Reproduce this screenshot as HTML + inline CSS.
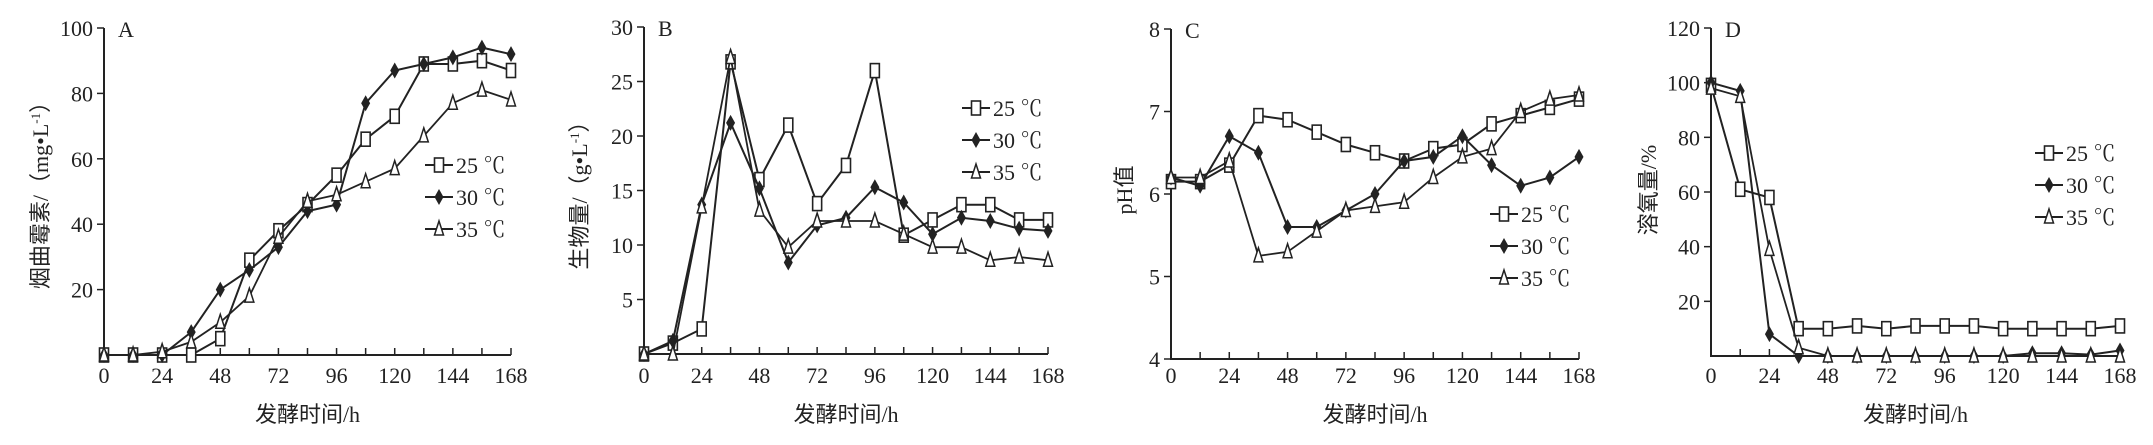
<!DOCTYPE html>
<html><head><meta charset="utf-8"><style>
html,body{margin:0;padding:0;background:#fff;}
svg{display:block;}
text{font-family:"Liberation Serif","Noto Serif CJK SC",serif;fill:#222;}
.cj{font-family:"Liberation Serif","Noto Sans CJK SC",sans-serif;}
</style></head><body>
<svg id="s" width="2153" height="445" viewBox="0 0 2153 445" xmlns="http://www.w3.org/2000/svg"></svg>
<script>
const S=document.getElementById('s');let h='';
const P=[
{x0:104,x1:511,y0:355,y1:28,min:0,max:100,ticks:[20,40,60,80,100],lab:'A',tx:56,yt:'烟曲霉素/（mg•L<tspan dy="-8" font-size="13">-1</tspan><tspan dy="8">）</tspan>',leg:[425,165],
d:[[0,0,0,0,5,29,38,46,55,66,73,89,89,90,87],[0,0,0,7,20,26,33,44,46,77,87,89,91,94,92],[0,0,1,4,10,18,36,47,49,53,57,67,77,81,78]]},
{x0:644,x1:1048,y0:354,y1:27,min:0,max:30,ticks:[5,10,15,20,25,30],lab:'B',tx:57,yt:'生物量/（g•L<tspan dy="-8" font-size="13">-1</tspan><tspan dy="8">）</tspan>',leg:[962,108],
d:[[0,1,2.3,26.8,16,21,13.8,17.3,26,10.9,12.3,13.7,13.7,12.3,12.3],[0,1.2,13.7,21.2,15.2,8.4,11.8,12.5,15.3,13.9,11,12.5,12.2,11.5,11.3],[0,0,13.5,27.2,13.2,9.8,12.2,12.2,12.2,11,9.8,9.8,8.6,8.9,8.6]]},
{x0:1171,x1:1579,y0:359,y1:29,min:4,max:8,ticks:[4,5,6,7,8],lab:'C',tx:39,yt:'pH值',leg:[1490,214],
d:[[6.15,6.15,6.35,6.95,6.9,6.75,6.6,6.5,6.4,6.55,6.6,6.85,6.95,7.05,7.15],[6.2,6.1,6.7,6.5,5.6,5.6,5.8,6.0,6.4,6.45,6.7,6.35,6.1,6.2,6.45],[6.2,6.2,6.4,5.25,5.3,5.55,5.8,5.85,5.9,6.2,6.45,6.55,7.0,7.15,7.2]]},
{x0:1711,x1:2120,y0:356,y1:28,min:0,max:120,ticks:[20,40,60,80,100,120],lab:'D',tx:55,yt:'溶氧量/%',leg:[2035,153],
d:[[99,61,58,10,10,11,10,11,11,11,10,10,10,10,11],[100,97,8,0,0,0,0,0,0,0,0,1,1,0.5,2],[98,95,39,3,0,0,0,0,0,0,0,0,0,0,0]]}
];
function mk(t,x,y){
 if(t==0) return `<rect x="${x-4.5}" y="${y-7}" width="9" height="14" fill="#fff" stroke="#222" stroke-width="1.6"/>`;
 if(t==1) return `<path d="M${x} ${y-8}L${x+4.5} ${y}L${x} ${y+8}L${x-4.5} ${y}Z" fill="#222"/>`;
 return `<path d="M${x} ${y-8}L${x+4.5} ${y+6}L${x-4.5} ${y+6}Z" fill="#fff" stroke="#222" stroke-width="1.5"/>`;
}
P.forEach(p=>{
 const X=t=>p.x0+(p.x1-p.x0)*t/168, Y=v=>p.y0+(p.y1-p.y0)*(v-p.min)/(p.max-p.min);
 h+=`<path d="M${p.x0} ${p.y1}V${p.y0}H${p.x1}" fill="none" stroke="#222" stroke-width="2"/>`;
 for(let t=12;t<=168;t+=12) h+=`<line x1="${X(t)}" y1="${p.y0}" x2="${X(t)}" y2="${p.y0-7}" stroke="#222" stroke-width="1.5"/>`;
 for(let t=0;t<=168;t+=24) h+=`<text x="${X(t)}" y="383" font-size="22" text-anchor="middle">${t}</text>`;
 p.ticks.forEach(v=>{h+=`<line x1="${p.x0-7}" y1="${Y(v)}" x2="${p.x0}" y2="${Y(v)}" stroke="#222" stroke-width="1.5"/><text x="${p.x0-11}" y="${Y(v)+8}" font-size="22" text-anchor="end">${v}</text>`;});
 h+=`<text x="${p.x0+14}" y="${p.y1+9}" font-size="22">${p.lab}</text>`;
 h+=`<text class="cj" x="${(p.x0+p.x1)/2}" y="422" font-size="22" text-anchor="middle">发酵时间/h</text>`;
 h+=`<text class="cj" transform="translate(${p.x0-p.tx},190) rotate(-90)" font-size="22" text-anchor="middle">${p.yt}</text>`;
 p.d.forEach((s,i)=>{
  let pts=s.map((v,k)=>X(k*12).toFixed(1)+','+Y(v).toFixed(1)).join(' ');
  h+=`<polyline points="${pts}" fill="none" stroke="#222" stroke-width="${i==2?1.8:2}"/>`;
  s.forEach((v,k)=>h+=mk(i,X(k*12),Y(v)));
  const ly=p.leg[1]+i*32, lx=p.leg[0];
  h+=`<line x1="${lx}" y1="${ly}" x2="${lx+28}" y2="${ly}" stroke="#222" stroke-width="2"/>`+mk(i,lx+14,ly);
  h+=`<text x="${lx+31}" y="${ly+8}" font-size="22">${['25','30','35'][i]} ℃</text>`;
 });
});
S.innerHTML=h;
</script>
</body></html>
